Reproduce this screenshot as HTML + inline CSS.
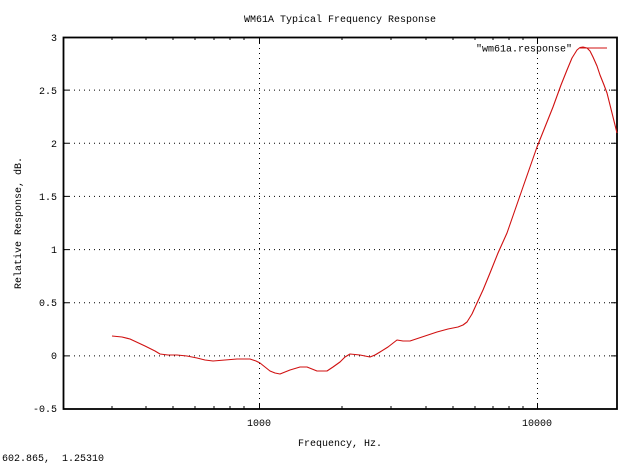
<!DOCTYPE html>
<html><head><meta charset="utf-8"><style>
html,body{margin:0;padding:0;background:#fff;}
svg{display:block;}
text{font-family:"Liberation Mono","DejaVu Sans Mono",monospace;font-size:10px;fill:#000;white-space:pre;}
</style></head><body>
<svg width="640" height="463" viewBox="0 0 640 463" xmlns="http://www.w3.org/2000/svg">
<g stroke="#000" stroke-width="1" stroke-dasharray="1,4" fill="none">
<line x1="64" y1="90.1" x2="616" y2="90.1"/>
<line x1="64" y1="143.3" x2="616" y2="143.3"/>
<line x1="64" y1="196.4" x2="616" y2="196.4"/>
<line x1="64" y1="249.6" x2="616" y2="249.6"/>
<line x1="64" y1="302.7" x2="616" y2="302.7"/>
<line x1="64" y1="355.9" x2="616" y2="355.9"/>
<line x1="259.5" y1="38" x2="259.5" y2="408"/>
<line x1="537.5" y1="38" x2="537.5" y2="408"/>
</g>
<g stroke="#000" stroke-width="1">
<path d="M112,409v-3M146,409v-3M173,409v-3M195,409v-3M214,409v-3M230,409v-3M244,409v-3M259.5,409v-6M342,409v-3M391,409v-3M426,409v-3M453,409v-3M475,409v-3M493,409v-3M509,409v-3M523,409v-3M537.5,409v-6
M112,37v3M146,37v3M173,37v3M195,37v3M214,37v3M230,37v3M244,37v3M259.5,37v6M342,37v3M391,37v3M426,37v3M453,37v3M475,37v3M493,37v3M509,37v3M523,37v3M537.5,37v6
M63,90.1h6M63,143.3h6M63,196.4h6M63,249.6h6M63,302.7h6M63,355.9h6
M617,90.1h-6M617,143.3h-6M617,196.4h-6M617,249.6h-6M617,302.7h-6M617,355.9h-6"/>
</g>
<rect x="63.5" y="37.5" width="553.5" height="371.5" fill="none" stroke="#000" stroke-width="1.8"/>
<polyline fill="none" stroke="#d01010" stroke-width="1.1" stroke-linejoin="round" points="112,336 122,337 130,339 145,346 155,351 160,354 168,355 177,355 187,356 197,358 205,360 213,361 225,360 237,359 250,359 256,361 260,363 265,367 270,371 275,373 280,374 290,370 300,367 307,367 312,369 317,371 327,371 333,367 340,362 345,357 350,354 360,355 370,357 375,355 380,352 388,347 397,340 403,341 410,341 425,336 437,332 448,329 458,327 463,325 467,322 472,314 477,303 483,290 490,273 498,253 507,233 515,210 523,187 530,167 537,147 545,127 553,107 561,85 567,70 572,58 577,50 580,47.5 583,47 587,48 590,51 593,57 597,66 600,75 604,85 607,93 612,113 617,133"/>
<line x1="580" y1="48" x2="607" y2="48" stroke="#d01010" stroke-width="1.1"/>
<text x="572" y="51.5" text-anchor="end">"wm61a.response"</text>
<text x="340" y="22" text-anchor="middle">WM61A Typical Frequency Response</text>
<g text-anchor="end">
<text x="57" y="41">3</text>
<text x="57" y="94">2.5</text>
<text x="57" y="147">2</text>
<text x="57" y="200">1.5</text>
<text x="57" y="253">1</text>
<text x="57" y="306">0.5</text>
<text x="57" y="359">0</text>
<text x="57" y="412">-0.5</text>
</g>
<text x="259" y="426" text-anchor="middle">1000</text>
<text x="537" y="426" text-anchor="middle">10000</text>
<text x="340" y="446" text-anchor="middle">Frequency, Hz.</text>
<text x="0" y="0" text-anchor="middle" transform="translate(21,223) rotate(-90)">Relative Response, dB.</text>
<text x="2" y="461">602.865,  1.25310</text>
</svg>
</body></html>
